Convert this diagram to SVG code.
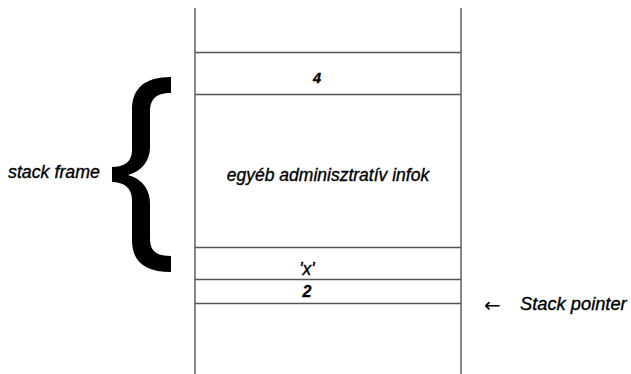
<svg xmlns="http://www.w3.org/2000/svg" width="631" height="374" viewBox="0 0 631 374">
<style>
.ln{stroke:#555;stroke-width:1.4;fill:none}
.t{font-family:"Liberation Sans",Arial,sans-serif;font-style:italic;fill:#000;stroke:#000;stroke-width:0.35}
</style>
<rect width="631" height="374" fill="#fff"/>
<g id="stack">
<line class="ln" x1="195" y1="8" x2="195" y2="374"/>
<line class="ln" x1="461" y1="8" x2="461" y2="374"/>
</g>
<g id="cell-4">
<line class="ln" x1="195" y1="52.5" x2="461" y2="52.5"/>
<text class="t" x="317" y="83" font-size="14.5" font-weight="bold" text-anchor="middle">4</text>
</g>
<g id="cell-admin">
<line class="ln" x1="195" y1="94.5" x2="461" y2="94.5"/>
<text class="t" x="328" y="181" font-size="17.5" text-anchor="middle">egyéb adminisztratív infok</text>
</g>
<g id="cell-x">
<line class="ln" x1="195" y1="247.5" x2="461" y2="247.5"/>
<text class="t" x="307" y="275" font-size="17.5" text-anchor="middle">'x'</text>
</g>
<g id="cell-2">
<line class="ln" x1="195" y1="279.5" x2="461" y2="279.5"/>
<text class="t" x="307" y="297" font-size="16" font-weight="bold" text-anchor="middle">2</text>
<line class="ln" x1="195" y1="303.5" x2="461" y2="303.5"/>
</g>
<g id="stack-frame">
<path fill="#000" d="M171,77 C145,77 132,88 132,110 L132,150 C132,162 124,167 112,167 L112,182 C124,182 132,188 132,200 L132,240 C132,262 145,272 171,272 L171,256 C155,256 150,250 150,238 L150,203 C150,188 140,178 128,175 C140,172 150,162 150,147 L150,112 C150,100 155,93 171,93 Z"/>
<text class="t" x="8" y="178" font-size="17.8">stack frame</text>
</g>
<g id="stack-pointer">
<text x="484" y="311.5" font-family="DejaVu Sans,sans-serif" font-size="20" fill="#000">←</text>
<text class="t" x="520" y="310" font-size="18.3">Stack pointer</text>
</g>
</svg>
